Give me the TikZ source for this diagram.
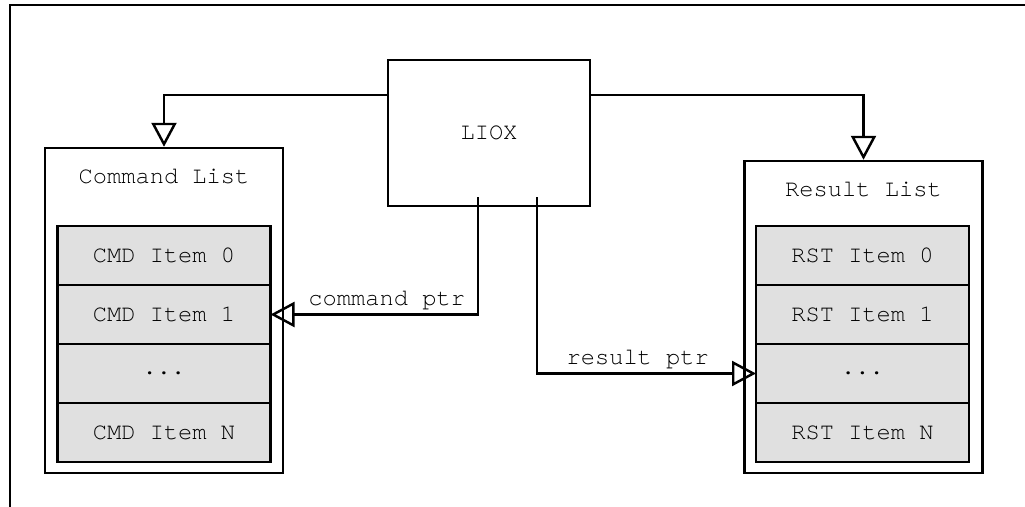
\documentclass[tikz,border=0pt]{standalone}
\usepackage{fontspec}
\setmonofont{texgyrecursor-regular.otf}
\usepackage{tikz}
\usetikzlibrary{positioning,arrows.meta,calc}

\begin{document}
\begin{tikzpicture}[
    font=\ttfamily\fontsize{13.5}{15}\selectfont,
    line width=1.4pt,
    box/.style={
        draw=black,
        minimum width=4.04cm,
        minimum height=2.92cm,
        align=center
    },
    listbox/.style={
        draw=black,
        minimum width=4.76cm,
        inner sep=0pt
    },
    item/.style={
        draw=black,
        fill=black!12,
        minimum width=4.26cm,
        minimum height=1.18cm,
        outer sep=0pt,
        inner sep=0pt
    },
    arr/.style={-{Triangle[open,length=4.8mm,width=5mm]}}
]

\useasboundingbox (0,0) rectangle (20.5,-10.14);

% frame
\draw (0.2,-10.4) |- (20.8,-0.1);

\node[box] (liox) at (9.78,-2.66) {LIOX};

% command side
\node[listbox, minimum height=6.5cm] (cmdlist) at (3.28,-6.21) {};
\node (cmdtitle) at ([yshift=-0.6cm]cmdlist.north) {Command List};
\node[item] (cmd0) at (3.28,-5.11) {CMD Item 0};
\node[item, below=0pt of cmd0] (cmd1) {CMD Item 1};
\node[item, below=0pt of cmd1] (cmd2) {...};
\node[item, below=0pt of cmd2] (cmd3) {CMD Item N};

% result side
\node[listbox, minimum height=6.24cm] (rstlist) at (17.27,-6.34) {};
\node (rsttitle) at ([yshift=-0.6cm]rstlist.north) {Result List};
\node[item] (rst0) at (17.25,-5.11) {RST Item 0};
\node[item, below=0pt of rst0] (rst1) {RST Item 1};
\node[item, below=0pt of rst1] (rst2) {...};
\node[item, below=0pt of rst2] (rst3) {RST Item N};

\draw[arr] ([yshift=0.76cm]liox.west) -| (cmdlist.north);
\draw[arr] ([yshift=0.76cm]liox.east) -| (rstlist.north);

\draw[arr] ([xshift=-0.22cm,yshift=0.2cm]liox.south) |- (cmd1.east)
    node[above, pos=0.72, inner sep=2pt] {command ptr};
\draw[arr] ([xshift=0.96cm,yshift=0.2cm]liox.south) |- (rst2.west)
    node[above, pos=0.73, inner sep=2pt] {result ptr};

\end{tikzpicture}
\end{document}
